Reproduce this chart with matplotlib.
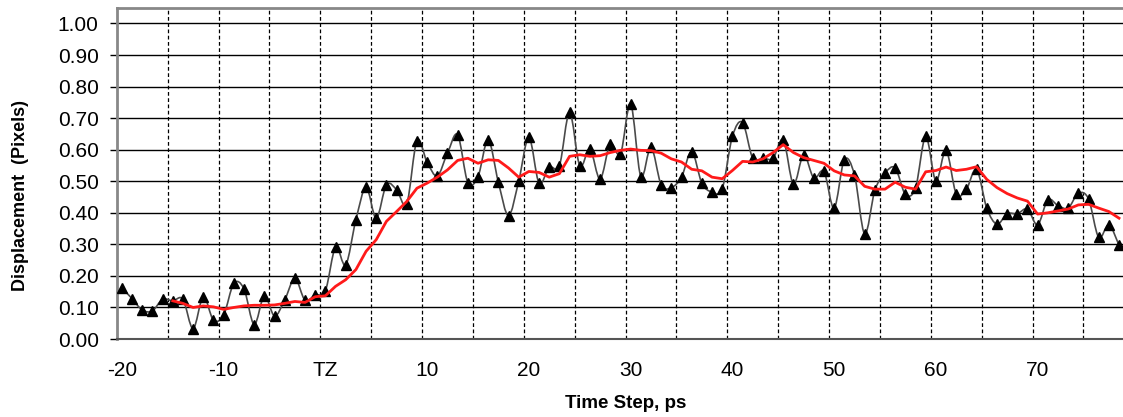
import numpy as np
import matplotlib
matplotlib.use("Agg")
import matplotlib.pyplot as plt
from matplotlib.path import Path
from matplotlib.patches import PathPatch

plt.rcParams['font.family'] = ['Liberation Sans', 'DejaVu Sans']

# time step (ps), -20 .. 78
steps = list(range(-20, 79))

# displacement per step
disp = [0.162, 0.128, 0.092, 0.089, 0.126, 0.121, 0.126, 0.033, 0.134, 0.060,
        0.076, 0.176, 0.159, 0.046, 0.137, 0.073, 0.123, 0.192, 0.123, 0.140,
        0.153, 0.291, 0.235, 0.378, 0.481, 0.383, 0.489, 0.473, 0.429, 0.629,
        0.560, 0.517, 0.589, 0.647, 0.496, 0.515, 0.631, 0.497, 0.391, 0.500,
        0.639, 0.494, 0.545, 0.549, 0.718, 0.549, 0.602, 0.507, 0.619, 0.586,
        0.745, 0.515, 0.608, 0.489, 0.480, 0.513, 0.594, 0.494, 0.466, 0.476,
        0.642, 0.686, 0.573, 0.573, 0.573, 0.631, 0.491, 0.584, 0.510, 0.531,
        0.415, 0.568, 0.520, 0.333, 0.471, 0.526, 0.542, 0.459, 0.479, 0.642,
        0.501, 0.598, 0.460, 0.475, 0.538, 0.415, 0.364, 0.397, 0.397, 0.412,
        0.362, 0.441, 0.423, 0.415, 0.462, 0.444, 0.322, 0.362, 0.297]

# red trend line, -15 .. 78
trend_steps = list(range(-15, 79))
trend = [0.121, 0.113, 0.100, 0.105, 0.102, 0.094, 0.100, 0.105, 0.107, 0.107,
         0.108, 0.113, 0.119, 0.116, 0.134, 0.137, 0.167, 0.188, 0.220, 0.278,
         0.315, 0.373, 0.404, 0.436, 0.478, 0.494, 0.513, 0.536, 0.566, 0.573,
         0.557, 0.568, 0.566, 0.542, 0.513, 0.531, 0.528, 0.513, 0.524, 0.579,
         0.584, 0.579, 0.581, 0.591, 0.598, 0.602, 0.598, 0.597, 0.589, 0.571,
         0.561, 0.538, 0.533, 0.513, 0.508, 0.534, 0.563, 0.561, 0.571, 0.591,
         0.616, 0.591, 0.575, 0.566, 0.557, 0.533, 0.520, 0.517, 0.484, 0.475,
         0.475, 0.497, 0.481, 0.475, 0.530, 0.534, 0.545, 0.534, 0.538, 0.546,
         0.506, 0.480, 0.461, 0.447, 0.437, 0.396, 0.400, 0.406, 0.412, 0.425,
         0.427, 0.415, 0.404, 0.383]

xtick_pos = [-20, -10, 0, 10, 20, 30, 40, 50, 60, 70]
xtick_lab = ['-20', '-10', 'TZ', '10', '20', '30', '40', '50', '60', '70']
ytick_pos = [0.0, 0.1, 0.2, 0.3, 0.4, 0.5, 0.6, 0.7, 0.8, 0.9, 1.0]

fig = plt.figure(figsize=(11.23, 4.17), dpi=100)
ax = fig.add_axes([0.104, 0.187, 0.897, 0.793])

# smoothed line like excel (catmull-rom as bezier)
pts = np.column_stack([steps, disp])
n = len(pts)
verts = [pts[0]]
codes = [Path.MOVETO]
for i in range(n - 1):
    p0 = pts[max(i - 1, 0)]
    p1 = pts[i]
    p2 = pts[i + 1]
    p3 = pts[min(i + 2, n - 1)]
    verts += [p1 + (p2 - p0) / 6, p2 - (p3 - p1) / 6, p2]
    codes += [Path.CURVE4] * 3
ax.add_patch(PathPatch(Path(verts, codes), fill=False, edgecolor='#4a4a4a', lw=1.2, zorder=3))
ax.plot(steps, disp, ls='none', marker='^', ms=7, color='black', zorder=4)
ax.plot(trend_steps, trend, color='#ff1a1a', lw=2, zorder=5)

ax.set_xlim(-20.5, 78.5)
ax.set_ylim(0, 1.048)
ax.set_yticks(ytick_pos)
ax.set_yticklabels(['%.2f' % v for v in ytick_pos])
ax.set_xticks(xtick_pos)
ax.set_xticklabels(xtick_lab)
ax.set_xticks(np.arange(-15.5, 78, 5), minor=True)

ax.grid(axis='y', which='major', color='black', lw=1)
ax.grid(axis='x', which='minor', color='black', lw=0.9, ls=(0, (3, 2)))
ax.set_axisbelow(True)

ax.tick_params(axis='y', direction='out', length=5, width=1, color='black',
               labelsize=15, pad=8)
ax.tick_params(axis='x', which='both', length=0, labelsize=15, pad=16)

for s in ['left', 'top']:
    ax.spines[s].set_color('#888888')
    ax.spines[s].set_linewidth(2)
ax.spines['bottom'].set_color('#555555')
ax.spines['bottom'].set_linewidth(1.5)
ax.spines['right'].set_visible(False)

ax.set_xlabel('Time Step, ps', fontsize=13.5, fontweight='bold')
ax.xaxis.set_label_coords(0.505, -0.17)
fig.text(0.018, 0.53, 'Displacement  (Pixels)', rotation=90, fontsize=13,
         fontweight='bold', ha='center', va='center')

fig.savefig('out.png', dpi=100)
